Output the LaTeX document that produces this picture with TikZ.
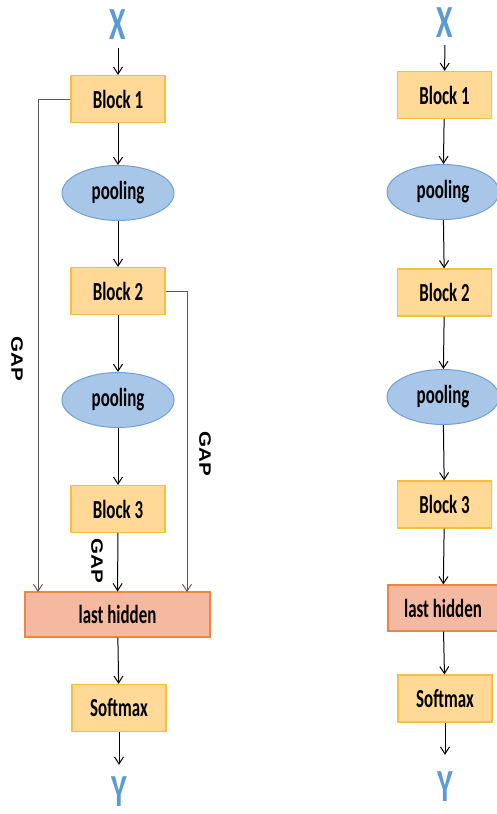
\documentclass[tikz,border=0pt]{standalone}
\usepackage{fontspec}
\usetikzlibrary{shapes.geometric,arrows.meta}
\newfontfamily\boxfont[FakeStretch=0.65]{Carlito}
\newfontfamily\gapfont[FakeStretch=1.25]{Liberation Sans}
\definecolor{blockfill}{HTML}{FFD995}
\definecolor{blockline}{HTML}{F5C040}
\definecolor{poolfill}{HTML}{A8C6E8}
\definecolor{poolline}{HTML}{6FA1D8}
\definecolor{lastfill}{HTML}{F5B8A0}
\definecolor{lastline}{HTML}{EE8540}
\definecolor{io}{HTML}{5B9BD5}
\tikzset{
  block/.style={draw=blockline, fill=blockfill, line width=1.2pt,
    minimum width=94pt, minimum height=47pt, inner sep=0pt,
    font=\boxfont\bfseries\fontsize{26}{26}\selectfont},
  pool/.style={ellipse, draw=poolline, fill=poolfill, line width=1pt,
    minimum width=112pt, minimum height=55pt, inner sep=0pt,
    font=\boxfont\bfseries\fontsize{26}{26}\selectfont},
  last/.style={block, draw=lastline, fill=lastfill},
  io/.style={text=io, inner sep=0pt, text height=30pt, text depth=0pt,
    font=\boxfont\bfseries\fontsize{46}{46}\selectfont},
  gap/.style={rotate=-90, inner sep=0pt, font=\gapfont\bfseries\fontsize{16.5}{16.5}\selectfont},
  gapline/.style={black!65, line width=0.9pt},
  every edge/.style={draw, line width=1pt},
}
\begin{document}
\begin{tikzpicture}[x=1pt, y=-1pt, >={Straight Barb[length=7pt,width=9pt]}]
      \useasboundingbox (0,0) rectangle (497,814);
      % with GAP
      \node[io] (x)  at (118,24) {X};
      \node[block] (b1) at (118,99) {Block 1};
      \node[pool] (p1) at (118,193) {pooling};
      \node[block] (b2) at (118,291) {Block 2};
      \node[pool] (p2) at (118,400) {pooling};
      \node[block] (b3) at (118,509) {Block 3};
      \node[last, minimum width=185pt, minimum height=45pt] (lh) at (117.5,614.5) {last hidden};
      \node[block] (sm) at (119,708) {Softmax};
      \node[io] (y)  at (119,791) {Y};
      \coordinate (gapL) at (38,592);
      \coordinate (gapR) at (187,592);
      \path (x) edge [->, shorten <=9pt] (b1);
      \path (b1) edge [->] (p1);
      \path (p1) edge [->] (b2);
      \path (b2) edge [->] (p2);
      \path (p2) edge [->] (b3);
      \path (b3) edge [->] (lh);
      \path (lh) edge [->] (sm);
      \path (sm) edge [->, shorten >=11pt] (y);
      \draw[gapline, ->] (b1.west) -| (gapL);
      \draw[gapline, ->] (b2.east) -| (gapR);
      \node[gap] (gap1) at (17,359) {GAP};
      \node[gap] (gap2) at (205,454) {GAP};
      \node[gap] (gap3) at (97,561) {GAP};
      % without GAP
      \node[io] (xr)  at (445,22) {X};
      \node[block] (b1r) at (444.5,95) {Block 1};
      \node[pool] (p1r) at (443,192) {pooling};
      \node[block] (b2r) at (444.5,292.5) {Block 2};
      \node[pool] (p2r) at (443,397) {pooling};
      \node[block] (b3r) at (444.5,504.5) {Block 3};
      \node[last, minimum width=110pt, minimum height=46pt] (lhr) at (443,608) {last hidden};
      \node[block] (smr) at (445,698.5) {Softmax};
      \node[io] (yr)  at (445,786) {Y};
      \path (xr) edge [->, shorten <=8pt] (b1r);
      \path (b1r) edge [->] (p1r);
      \path (p1r) edge [->] (b2r);
      \path (b2r) edge [->] (p2r);
      \path (p2r) edge [->] (b3r);
      \path (b3r) edge [->] (lhr);
      \path (lhr) edge [->] (smr);
      \path (smr) edge [->, shorten >=16pt] (yr);
    \end{tikzpicture}
\end{document}
